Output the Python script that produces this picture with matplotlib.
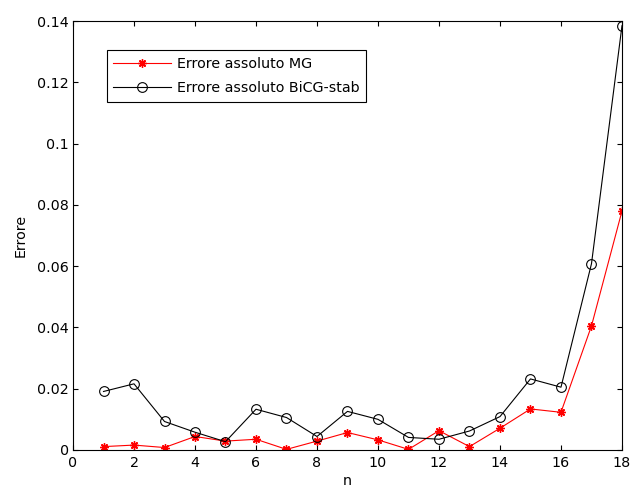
import matplotlib
matplotlib.use("Agg")
import matplotlib.pyplot as plt

n = list(range(1, 19))
err_mg = [0.0011, 0.0016, 0.0008, 0.0044, 0.0029, 0.0035, 0.0002, 0.0029, 0.0057,
          0.0033, 0.0002, 0.0063, 0.0011, 0.0071, 0.0134, 0.0123, 0.0405, 0.0780]
err_bicg = [0.0191, 0.0216, 0.0093, 0.0058, 0.0027, 0.0133, 0.0106, 0.0044, 0.0126,
            0.0100, 0.0041, 0.0035, 0.0062, 0.0109, 0.0232, 0.0205, 0.0608, 0.1385]
xticks = list(range(0, 19, 2))
yticks = [0, 0.02, 0.04, 0.06, 0.08, 0.1, 0.12, 0.14]
ytick_labels = ["0", "0.02", "0.04", "0.06", "0.08", "0.1", "0.12", "0.14"]

plt.rcParams['font.family'] = ['DejaVu Sans']
plt.rcParams['font.size'] = 10.3

fig = plt.figure(figsize=(6.31, 4.92), dpi=100)
ax = fig.add_axes([0.1157, 0.0854, 0.8700, 0.8716])

ax.plot(n, err_mg, color='red', marker=(8, 2, 0), markersize=6, markeredgewidth=1.0,
        linewidth=0.8, label='Errore assoluto MG')
ax.plot(n, err_bicg, color='black', marker='o', markersize=7, markerfacecolor='none',
        markeredgewidth=0.8, linewidth=0.8, label='Errore assoluto BiCG-stab')

ax.set_xlim(0, 18)
ax.set_ylim(0, 0.14)
ax.set_xticks(xticks)
ax.set_yticks(yticks)
ax.set_yticklabels(ytick_labels)
ax.tick_params(direction='in', top=True, right=True, length=3.5, width=0.8)
ax.tick_params(axis='x', pad=4)
ax.tick_params(axis='y', pad=3)
for s in ax.spines.values():
    s.set_linewidth(0.8)

ax.set_xlabel('n', labelpad=3)
ax.set_ylabel('Errore', labelpad=7)

leg = ax.legend(loc='upper left', bbox_to_anchor=(0.0619, 0.932), borderaxespad=0,
                fancybox=False, edgecolor='black', framealpha=1, borderpad=0.45,
                handlelength=4.0, handletextpad=0.45, labelspacing=0.75)
leg.get_frame().set_linewidth(0.8)

fig.savefig('out.png', dpi=100)
